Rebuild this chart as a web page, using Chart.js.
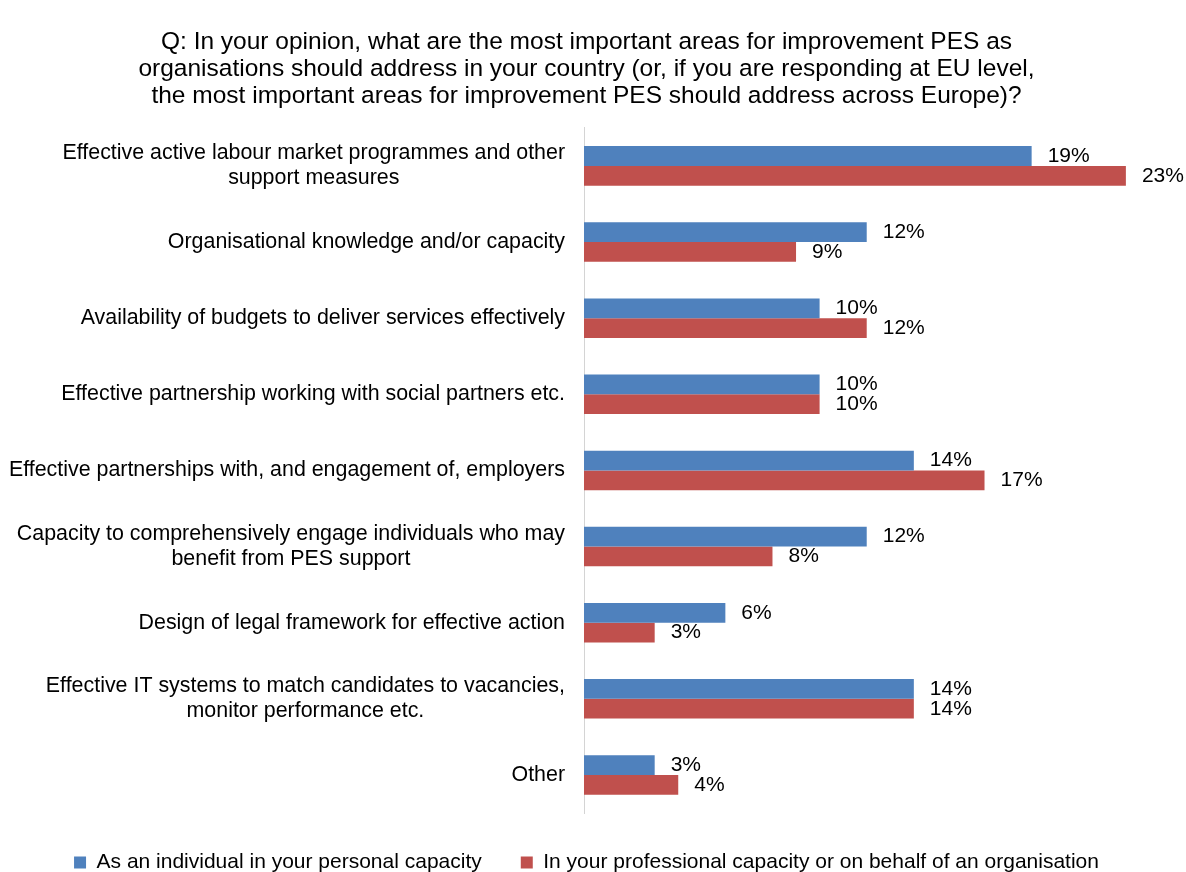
<!DOCTYPE html>
<html>
<head>
<meta charset="utf-8">
<title>PES improvement areas</title>
<script src="https://cdn.jsdelivr.net/npm/chart.js@4/dist/chart.umd.min.js"></script>
<style>
  body { margin: 0; background: #fff; }
  #wrap { width: 1186px; height: 872px; }
</style>
</head>
<body>
<div id="wrap"><canvas id="myChart" width="1186" height="872"></canvas></div>
<script>
const categories = [
  ['Effective active labour market programmes and other', 'support measures'],
  ['Organisational knowledge and/or capacity'],
  ['Availability of budgets to deliver services effectively'],
  ['Effective partnership working with social partners etc.'],
  ['Effective partnerships with, and engagement of, employers'],
  ['Capacity to comprehensively engage individuals who may', 'benefit from PES support'],
  ['Design of legal framework for effective action'],
  ['Effective IT systems to match candidates to vacancies,', 'monitor performance etc.'],
  ['Other']
]
const individual = [19, 12, 10, 10, 14, 12, 6, 14, 3]
const organisation = [23, 9, 12, 10, 17, 8, 3, 14, 4]
const seriesNames = [
  'As an individual in your personal capacity',
  'In your professional capacity or on behalf of an organisation'
]
const titleLines = [
  'Q: In your opinion, what are the most important areas for improvement PES as',
  'organisations should address in your country (or, if you are responding at EU level,',
  'the most important areas for improvement PES should address across Europe)?'
]

const FONT = "'Liberation Sans', Arial, sans-serif"
Chart.defaults.font.family = FONT
Chart.defaults.color = '#000'

// category labels: block right-aligned to the axis, lines centred inside the block
const categoryLabels = {
  id: 'categoryLabels',
  afterDraw(chart) {
    const ctx = chart.ctx
    const yScale = chart.scales.y
    const right = yScale.right - 19
    const lh = 25
    ctx.save()
    ctx.font = '21.4px ' + FONT
    ctx.fillStyle = '#000'
    ctx.textAlign = 'center'
    ctx.textBaseline = 'middle'
    categories.forEach((lines, i) => {
      const y = yScale.getPixelForTick(i)
      const w = Math.max(...lines.map(l => ctx.measureText(l).width))
      const cx = right - w / 2
      lines.forEach((l, j) => {
        ctx.fillText(l, cx, y + (j - (lines.length - 1) / 2) * lh)
      })
    })
    ctx.restore()
  }
}

// percentage next to the end of every bar
const valueLabels = {
  id: 'valueLabels',
  afterDatasetsDraw(chart) {
    const ctx = chart.ctx
    ctx.save()
    ctx.font = '21px ' + FONT
    ctx.fillStyle = '#000'
    ctx.textAlign = 'left'
    ctx.textBaseline = 'middle'
    chart.data.datasets.forEach((ds, di) => {
      chart.getDatasetMeta(di).data.forEach((bar, i) => {
        ctx.fillText(ds.data[i] + '%', bar.x + 16, bar.y)
      })
    })
    ctx.restore()
  }
}

const ctx = document.getElementById('myChart')
new Chart(ctx, {
  type: 'bar',
  data: {
    labels: categories,
    datasets: [
      {
        label: seriesNames[0],
        data: individual,
        backgroundColor: '#4F81BD'
      },
      {
        label: seriesNames[1],
        data: organisation,
        backgroundColor: '#C0504D'
      }
    ]
  },
  options: {
    indexAxis: 'y',
    responsive: false,
    animation: false,
    categoryPercentage: 0.52,
    barPercentage: 1,
    layout: {
      padding: { left: 0, right: 13, top: 0, bottom: -11 }
    },
    scales: {
      x: {
        display: false,
        min: 0,
        max: 25
      },
      y: {
        ticks: { display: false },
        grid: { display: false },
        border: { display: true, color: '#d4d4d4', width: 1 },
        afterFit: s => { s.width = 584 }
      }
    },
    plugins: {
      title: {
        display: true,
        text: titleLines,
        color: '#000',
        font: { size: 24.5, weight: 'normal', lineHeight: 1.1 },
        padding: { top: 29, bottom: 18 }
      },
      legend: {
        position: 'bottom',
        labels: {
          boxWidth: 12,
          boxHeight: 12,
          padding: 39,
          color: '#000',
          font: { size: 21 }
        }
      },
      tooltip: { enabled: false }
    }
  },
  plugins: [categoryLabels, valueLabels]
})
</script>
</body>
</html>
